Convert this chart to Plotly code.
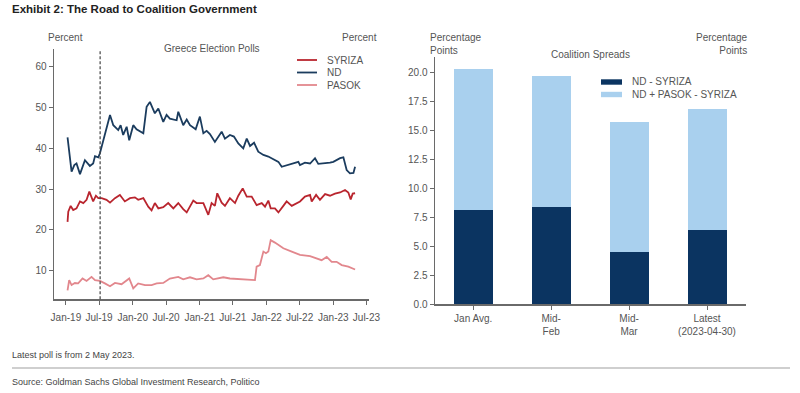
import plotly.graph_objects as go

# ---------------- data ----------------
nd_dates = ["2019-01-10","2019-01-17","2019-02-01","2019-02-16","2019-02-28","2019-03-19","2019-04-15","2019-05-12",
            "2019-05-30","2019-06-09","2019-06-27","2019-07-06","2019-08-02","2019-08-30","2019-09-17","2019-10-14",
            "2019-10-27","2019-11-10","2019-11-29","2019-12-13","2020-01-04","2020-01-22","2020-02-28","2020-03-17",
            "2020-04-04","2020-05-01","2020-05-20","2020-06-16","2020-07-04","2020-07-22","2020-08-28","2020-09-06",
            "2020-10-03","2020-10-22","2020-11-09","2020-12-10","2021-01-02","2021-01-21","2021-02-08","2021-02-26",
            "2021-03-25","2021-05-01","2021-05-19","2021-06-15","2021-07-07","2021-07-31","2021-08-27","2021-09-15",
            "2021-10-03","2021-10-25","2021-11-17","2021-12-15","2022-01-11","2022-02-16","2022-03-07","2022-03-25",
            "2022-04-21","2022-05-28","2022-06-24","2022-07-03","2022-07-30","2022-08-27","2022-09-23","2022-10-11",
            "2022-11-17","2022-12-14","2023-01-01","2023-02-07","2023-02-25","2023-03-15","2023-04-02","2023-04-21",
            "2023-04-30"]
nd_values = [42.7,40.0,34.3,35.9,36.3,33.7,37.1,35.7,
             36.3,38.1,37.8,38.8,43.7,48.2,45.7,44.5,
             45.7,43.3,45.3,42.0,45.7,44.7,43.7,50.2,
             51.4,48.6,49.8,46.5,48.2,47.3,46.9,49.0,
             45.7,47.1,45.7,44.7,47.8,43.7,44.3,43.5,
             41.6,44.1,42.4,43.3,42.9,41.2,40.0,42.4,
             40.6,41.4,39.2,38.4,38.0,37.1,36.7,35.5,
             35.9,36.3,36.7,35.9,36.5,36.3,37.6,36.2,
             36.3,36.5,36.7,37.6,37.8,34.7,33.9,34.0,
             35.5]

syriza_dates = ["2019-01-10","2019-01-14","2019-01-27","2019-02-10","2019-02-28","2019-03-19","2019-04-06","2019-04-24",
                "2019-05-09","2019-05-21","2019-05-30","2019-06-14","2019-06-27","2019-07-15","2019-08-11","2019-08-30",
                "2019-09-26","2019-10-23","2019-11-19","2019-12-17","2020-01-13","2020-01-31","2020-02-28","2020-03-26",
                "2020-04-13","2020-05-01","2020-05-20","2020-06-16","2020-07-13","2020-08-10","2020-09-06","2020-10-03",
                "2020-10-22","2020-11-27","2020-12-15","2021-01-21","2021-02-17","2021-03-07","2021-03-25","2021-04-07",
                "2021-05-01","2021-05-19","2021-06-15","2021-07-13","2021-07-31","2021-08-24","2021-09-15","2021-10-12",
                "2021-11-08","2021-12-06","2021-12-24","2022-01-11","2022-01-24","2022-02-16","2022-03-07","2022-04-03",
                "2022-04-21","2022-05-19","2022-06-15","2022-07-03","2022-07-30","2022-08-27","2022-09-05","2022-09-29",
                "2022-10-20","2022-11-17","2022-12-14","2023-01-10","2023-02-07","2023-03-06","2023-03-24","2023-04-06",
                "2023-04-17","2023-04-30"]
syriza_values = [22.0,24.5,25.9,24.9,25.3,27.0,26.6,27.4,
                 29.4,28.2,27.0,28.4,27.8,27.8,27.4,26.7,
                 27.8,28.6,27.0,27.8,28.0,27.4,27.8,25.7,
                 24.8,26.6,25.3,25.6,26.6,25.3,26.6,25.1,
                 24.3,27.2,26.6,26.6,23.7,26.6,25.9,29.0,
                 26.7,25.9,27.8,26.6,28.4,30.2,28.2,28.2,
                 26.1,26.6,25.7,27.2,25.3,25.3,24.3,25.9,
                 27.0,25.9,26.6,27.0,28.2,28.6,27.0,28.6,
                 27.4,28.8,28.4,28.9,29.2,29.8,29.2,27.5,
                 28.9,29.0]

pasok_dates = ["2019-01-10","2019-01-19","2019-02-01","2019-02-19","2019-03-09","2019-04-02","2019-04-24","2019-05-21",
               "2019-06-09","2019-07-06","2019-08-02","2019-08-30","2019-09-26","2019-11-01","2019-12-13","2020-01-04",
               "2020-01-31","2020-03-08","2020-04-13","2020-05-11","2020-06-16","2020-07-22","2020-09-06","2020-10-03",
               "2020-11-09","2020-12-15","2021-01-21","2021-02-17","2021-03-16","2021-05-10","2021-06-15","2021-08-27",
               "2021-10-03","2021-10-30","2021-11-08","2021-11-26","2021-12-15","2021-12-29","2022-01-11","2022-01-24",
               "2022-02-16","2022-04-03","2022-05-19","2022-07-03","2022-08-27","2022-10-02","2022-10-29","2022-11-26",
               "2022-12-23","2023-01-19","2023-02-16","2023-03-24","2023-04-30"]
pasok_values = [5.2,7.7,6.5,7.0,6.9,8.1,7.5,8.5,
                7.7,7.5,6.9,6.2,7.0,6.7,8.1,5.7,
                6.9,6.5,6.5,6.9,7.0,8.1,8.5,7.9,
                8.4,7.9,8.1,8.9,7.9,8.4,8.1,7.9,
                7.7,7.7,11.0,11.4,14.7,14.3,14.7,17.5,
                16.9,15.5,14.7,13.9,13.6,13.0,12.6,13.4,
                12.2,12.2,11.4,11.0,10.3]

election_date = "2019-07-07"

bar_categories = ["Jan Avg.", "Mid-<br>Feb", "Mid-<br>Mar", "Latest<br>(2023-04-30)"]
nd_minus_syriza = [8.1, 8.4, 4.55, 6.4]
nd_pasok_minus_syriza = [20.3, 19.65, 15.75, 16.8]

# ---------------- styling ----------------
C_SYRIZA = "#b9252e"
C_ND = "#1b3c5e"
C_PASOK = "#e2878d"
C_DARK = "#0b3461"
C_LIGHT = "#a9d0ee"
AX = "#6a6a6a"
TXT = "#555555"
FONT = "Liberation Sans, Arial, sans-serif"

W, H = 800, 393
def px(x): return x / W
def py(y): return 1 - y / H

fig = go.Figure()

fig.add_trace(go.Scatter(x=syriza_dates, y=syriza_values, mode="lines", name="SYRIZA",
                         line=dict(color=C_SYRIZA, width=1.8), xaxis="x", yaxis="y", showlegend=False))
fig.add_trace(go.Scatter(x=nd_dates, y=nd_values, mode="lines", name="ND",
                         line=dict(color=C_ND, width=1.8), xaxis="x", yaxis="y", showlegend=False))
fig.add_trace(go.Scatter(x=pasok_dates, y=pasok_values, mode="lines", name="PASOK",
                         line=dict(color=C_PASOK, width=1.8), xaxis="x", yaxis="y", showlegend=False))

light_part = [t - d for t, d in zip(nd_pasok_minus_syriza, nd_minus_syriza)]
fig.add_trace(go.Bar(x=bar_categories, y=nd_minus_syriza, name="ND - SYRIZA", marker_color=C_DARK,
                     width=0.5, xaxis="x2", yaxis="y3", showlegend=False))
fig.add_trace(go.Bar(x=bar_categories, y=light_part, name="ND + PASOK - SYRIZA", marker_color=C_LIGHT,
                     width=0.5, xaxis="x2", yaxis="y3", showlegend=False,
                     customdata=nd_pasok_minus_syriza))

axis_common = dict(showline=True, linecolor=AX, linewidth=1.5, ticks="outside", ticklen=4,
                   tickcolor=AX, tickwidth=1, showgrid=False, zeroline=False, automargin=False,
                   tickfont=dict(family=FONT, size=10, color=TXT))

yl_range = [3.0, 64.3]
yr_range = [0, 21.3]

fig.update_layout(
    template="none",
    width=W, height=H, margin=dict(l=0, r=0, t=0, b=0, pad=0), autosize=False,
    paper_bgcolor="white", plot_bgcolor="white", barmode="stack", showlegend=False,
    hovermode=False,
    font=dict(family=FONT, size=10, color=TXT),
    xaxis=dict(domain=[px(54), px(369)], anchor="y", type="date",
               range=["2018-10-28", "2023-07-15"], tick0="2019-01-01", dtick="M6",
               tickformat="%b-%y", ticklabelstandoff=4, **axis_common),
    yaxis=dict(domain=[py(299.3), py(49.3)], anchor="x", range=yl_range,
               tickvals=[10, 20, 30, 40, 50, 60], **axis_common),
    yaxis2=dict(overlaying="y", side="right", anchor="x", range=yl_range,
                tickvals=[10, 20, 30, 40, 50, 60], **axis_common),
    xaxis2=dict(domain=[px(435), px(746)], anchor="y3", type="category", range=[-0.49, 3.5],
                **axis_common),
    yaxis3=dict(domain=[py(304.3), py(57.3)], anchor="x2", range=yr_range,
                tickvals=[0, 2.5, 5, 7.5, 10, 12.5, 15, 17.5, 20], tickformat=".1f", **axis_common),
    yaxis4=dict(overlaying="y3", side="right", anchor="x2", range=yr_range,
                tickvals=[0, 2.5, 5, 7.5, 10, 12.5, 15, 17.5, 20], tickformat=".1f", **axis_common),
)

# election dashed line
fig.add_shape(type="line", xref="x", yref="y domain", x0=election_date, x1=election_date,
              y0=0, y1=1, line=dict(color="#444444", width=1.2, dash="3px,2px"))

# separator line at bottom
fig.add_shape(type="line", xref="paper", yref="paper", x0=px(12), x1=px(790), y0=py(368), y1=py(368),
              line=dict(color="#a0a0a0", width=1.2))

def ann(text, x, y, xanchor="center", size=10, color=TXT, family=FONT, **kw):
    fig.add_annotation(text=text, x=px(x), y=py(y), xref="paper", yref="paper",
                       xanchor=xanchor, yanchor="middle", showarrow=False,
                       font=dict(family=family, size=size, color=color), **kw)

ann("<b>Exhibit 2: The Road to Coalition Government</b>", 10, 9, xanchor="left", size=11.5,
    color="#222222")
ann("Latest poll is from 2 May 2023.", 10, 355, xanchor="left", size=9, color="#444444")
ann("Source: Goldman Sachs Global Investment Research, Politico", 10, 382, xanchor="left", size=9,
    color="#444444")

# left chart labels
ann("Percent", 65, 37)
ann("Percent", 359, 37)
ann("Greece Election Polls", 212, 49)

# left legend (manual)
for i, (name, col) in enumerate([("SYRIZA", C_SYRIZA), ("ND", C_ND), ("PASOK", C_PASOK)]):
    yy = 60 + i * 12.5
    fig.add_shape(type="line", xref="paper", yref="paper", x0=px(297), x1=px(317), y0=py(yy), y1=py(yy),
                  line=dict(color=col, width=1.8))
    ann(name, 325, yy, xanchor="left")

# right chart labels
ann("Percentage<br>Points", 428, 44, xanchor="left", align="left")
ann("Percentage<br>Points", 750, 44, xanchor="right", align="right")
ann("Coalition Spreads", 590, 55)

for i, (name, col) in enumerate([("ND - SYRIZA", C_DARK), ("ND + PASOK - SYRIZA", C_LIGHT)]):
    yy = 82 + i * 12.5
    fig.add_shape(type="rect", xref="paper", yref="paper", x0=px(601), x1=px(622),
                  y0=py(yy + 2.7), y1=py(yy - 2.7), line=dict(width=0), fillcolor=col)
    ann(name, 630, yy, xanchor="left")

# remove the browser's default 8px page margin so the figure fills the window exactly
fig.write_html("out.html", config={"displayModeBar": False, "staticPlot": True},
               post_script="document.body.style.margin='0px';")
